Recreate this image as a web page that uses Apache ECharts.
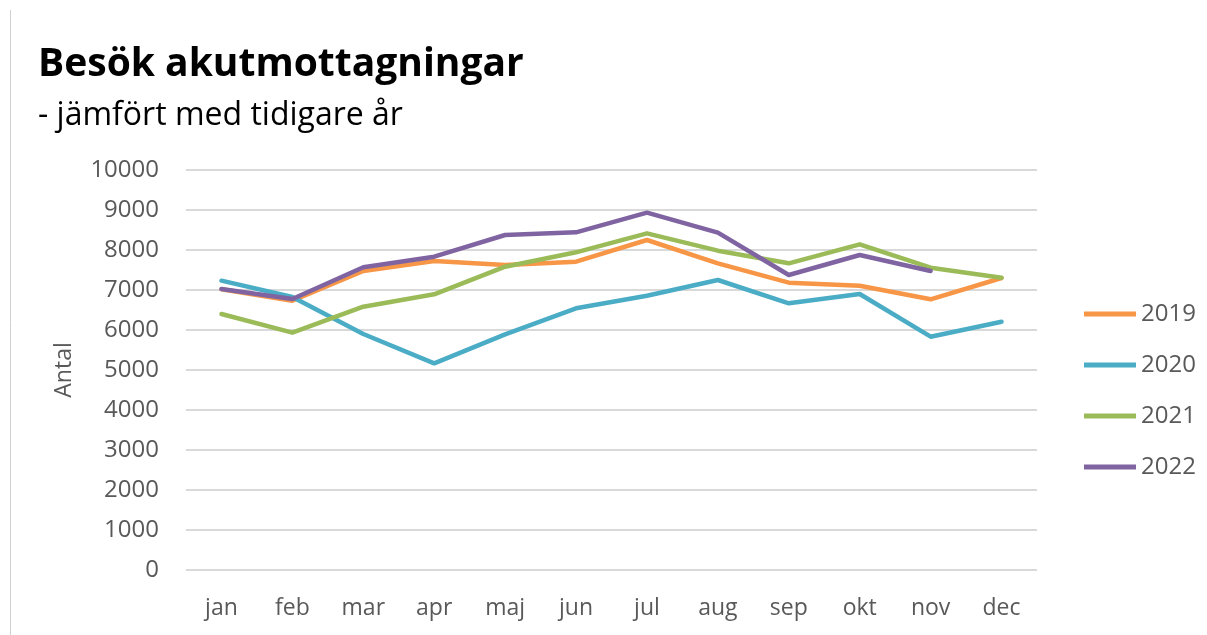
<!DOCTYPE html>
<html>
<head>
<meta charset="utf-8">
<script src="https://cdn.jsdelivr.net/npm/echarts@6/dist/echarts.min.js"></script>
<style>
  html, body { margin: 0; padding: 0; background: #fff; }
  #chart { width: 1207px; height: 635px; }
</style>
</head>
<body>
<div id="chart"></div>
<script>
// Besök akutmottagningar — jämfört med tidigare år
const months = ['jan', 'feb', 'mar', 'apr', 'maj', 'jun', 'jul', 'aug', 'sep', 'okt', 'nov', 'dec']
const y2019 = [7020, 6730, 7475, 7725, 7625, 7708, 8250, 7667, 7183, 7108, 6767, 7300]
const y2020 = [7233, 6825, 5900, 5167, 5892, 6542, 6858, 7250, 6667, 6900, 5833, 6208]
const y2021 = [6400, 5933, 6583, 6892, 7583, 7942, 8417, 7983, 7667, 8142, 7558, 7308]
const y2022 = [7025, 6775, 7567, 7833, 8375, 8442, 8933, 8433, 7375, 7875, 7475, null]

const FONT = '"Open Sans", Lato, sans-serif'
const TXT = '#595959'

const series = [
  { name: '2019', data: y2019, color: '#F79646' },
  { name: '2020', data: y2020, color: '#4BACC6' },
  { name: '2021', data: y2021, color: '#9BBB59' },
  { name: '2022', data: y2022, color: '#8064A2' },
].map((s) => ({
  name: s.name,
  type: 'line',
  data: s.data,
  symbol: 'none',
  connectNulls: false,
  lineStyle: { color: s.color, width: 4.5, cap: 'round', join: 'round' },
  itemStyle: { color: s.color },
}))

const chart = echarts.init(document.getElementById('chart'), null, { renderer: 'canvas' })
chart.setOption({
  animation: false,
  textStyle: { fontFamily: FONT },
  title: {
    text: 'Besök akutmottagningar',
    subtext: '- jämfört med tidigare år',
    left: 33,
    top: 40,
    itemGap: 16,
    textStyle: { fontFamily: FONT, fontSize: 39, fontWeight: 'bold', color: '#000' },
    subtextStyle: { fontFamily: FONT, fontSize: 32, color: '#000' },
  },
  legend: {
    orient: 'vertical',
    left: 1079,
    top: 297,
    itemWidth: 52,
    itemHeight: 5,
    itemGap: 27,
    icon: 'rect',
    textStyle: { fontFamily: FONT, fontSize: 24, color: TXT },
    data: ['2019', '2020', '2021', '2022'],
  },
  grid: { left: 186, right: 170, top: 170, bottom: 65 },
  xAxis: {
    type: 'category',
    data: months,
    boundaryGap: true,
    axisLine: { show: false },
    axisTick: { show: false },
    axisLabel: { color: TXT, fontSize: 23, margin: 27, fontFamily: FONT },
  },
  yAxis: {
    type: 'value',
    min: 0,
    max: 10000,
    interval: 1000,
    name: 'Antal',
    nameLocation: 'middle',
    nameGap: 110,
    nameTextStyle: { color: TXT, fontSize: 23, fontFamily: FONT },
    axisLine: { show: false },
    axisTick: { show: false },
    axisLabel: { color: TXT, fontSize: 24, margin: 27, fontFamily: FONT, formatter: (v) => String(v) },
    splitLine: { lineStyle: { color: '#d9d9d9', width: 2 } },
  },
  graphic: [
    { type: 'line', shape: { x1: 10.5, y1: 10, x2: 10.5, y2: 635 }, style: { stroke: '#d0d0d0', lineWidth: 1 } },
  ],
  series,
})
</script>
</body>
</html>
